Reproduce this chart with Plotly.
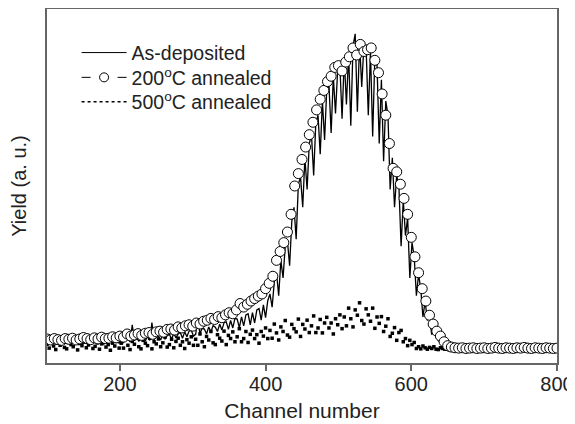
import plotly.graph_objects as go

# channel numbers for each series
ch_dep = list(range(100, 800, 3))
ch_200 = list(range(100, 801, 5))
ch_500 = list(range(100, 800, 3))

# As-deposited (noisy line), yield in arbitrary units
y_dep = [
    6.3, 5.5, 6.0, 6.9, 5.4, 6.2, 5.1, 6.6, 6.8, 5.6, 6.1, 5.3, 7.0, 5.8, 6.4, 6.6, 5.2,
    6.0, 6.9, 5.5, 6.3, 5.7, 7.2, 5.4, 6.5, 6.1, 5.3, 6.8, 5.9, 7.0, 5.5, 6.4, 6.7, 5.6,
    6.6, 5.8, 7.1, 6.9, 6.0, 10.8, 6.3, 7.4, 6.1, 7.0, 7.3, 6.2, 7.6, 6.4, 11.4, 6.6, 7.8,
    7.5, 6.5, 8.0, 6.8, 7.7, 8.1, 6.7, 8.4, 7.1, 8.2, 8.6, 7.0, 8.8, 7.4, 9.0, 9.3, 7.6,
    8.1, 12.2, 8.3, 9.8, 9.6, 8.2, 10.2, 8.8, 10.6, 10.1, 8.9, 11.0, 9.3, 11.4, 11.6, 9.5,
    12.0, 9.9, 12.6, 12.4, 10.0, 13.0, 10.5, 13.6, 13.9, 10.8, 14.2, 11.3, 15.0, 15.4,
    12.1, 16.4, 12.8, 17.6,
    19.5, 15.8, 23.0, 25.5, 19.0, 29.0, 24.0, 33.0, 34.5, 27.5, 40.0, 44.0, 35.0, 50.5,
    52.5, 44.0, 58.0, 49.0, 62.0, 64.5, 53.0, 68.0, 70.0, 59.0, 74.0, 63.0, 77.5, 78.5,
    65.0, 81.0, 70.5, 83.0, 84.0, 69.0,
    86.0, 73.0, 87.5, 67.0, 89.5, 93.0, 71.0, 90.5, 78.0, 90.0, 89.0, 70.0, 88.0, 64.0,
    86.5, 84.0, 62.0, 80.0, 57.0, 74.0, 70.0, 49.0, 58.0, 44.0, 53.0, 50.0, 33.0, 46.0,
    36.0, 41.0, 24.0, 34.0, 30.0, 19.0,
    25.0, 21.0, 13.0, 17.5, 12.0, 13.0, 8.0, 9.5, 7.5, 6.4, 5.8, 5.0, 4.9, 4.4, 4.6, 4.1,
    4.4, 4.3, 3.9, 4.2, 4.4, 4.0, 4.3, 3.9, 4.4, 4.2, 3.9, 4.3, 4.4, 4.0, 4.2, 3.9, 4.4, 4.1,
    4.0, 4.3, 4.4, 3.9, 4.2, 4.0, 4.4, 4.1, 3.9, 4.3, 4.2, 4.4, 3.9, 4.1, 4.3, 4.0, 4.4,
    4.2, 3.9, 4.3, 4.1, 4.4, 4.0, 3.9, 4.3, 4.2, 4.4, 4.0, 4.1, 4.3,
]

# 200 C annealed (open circles)
y_200 = [
    6.8, 6.5, 6.9, 6.6, 6.4, 6.9, 6.7, 7.0, 6.5, 6.8, 7.2, 6.9, 6.6, 7.1, 6.8, 7.3, 6.9, 7.0, 7.4, 7.1,
    7.6, 7.3, 8.2, 7.6, 7.9, 8.3, 7.8, 8.4, 8.6, 8.1, 8.8, 9.0, 8.7, 9.5, 9.6, 9.3, 10.2, 9.9, 10.5, 10.8,
    10.4, 11.3, 11.0, 11.8, 12.1, 12.6, 12.3, 13.1, 12.8, 13.6, 14.2, 13.9, 15.0, 16.8, 15.8, 16.6, 17.5, 18.2, 18.9, 19.5,
    21.0, 22.5, 24.5, 29.0, 31.5, 34.0, 37.0, 42.0, 50.0, 53.5, 57.5, 61.0, 64.5, 68.0, 71.5, 74.5, 77.0, 79.5, 81.0, 83.5,
    84.0, 82.5, 85.0, 86.5, 89.0, 87.0, 90.0, 88.0, 88.5, 89.0, 85.5, 82.0, 76.0, 70.0, 62.0, 55.0, 54.0, 50.5, 46.5, 42.0,
    35.5, 30.0, 25.5, 21.0, 17.5, 13.5, 11.0, 9.0, 7.6, 6.0, 4.9, 4.5, 4.3, 4.2, 4.3, 4.1, 4.2, 4.3, 4.1, 4.2,
    4.3, 4.1, 4.2, 4.4, 4.2, 4.1, 4.3, 4.2, 4.1, 4.3, 4.2, 4.4, 4.2, 4.1, 4.3, 4.2, 4.1, 4.3, 4.2, 4.1, 4.2,
]

# 500 C annealed (dots)
y_500 = [
    5.3, 4.2, 6.1, 4.8, 3.8, 5.6, 5.0, 6.4, 4.4, 4.0, 5.8, 5.2, 4.6, 6.2, 3.7, 5.5, 4.9,
    5.9, 4.3, 5.1, 6.3, 4.1, 4.7, 5.7, 3.9, 5.4, 6.0, 4.5, 5.2, 3.6, 5.6, 4.8, 6.1, 4.2,
    5.6, 4.2, 6.7, 5.0, 3.8, 6.1, 5.3, 7.1, 4.6, 4.0, 6.4, 5.6, 4.9, 7.0, 4.0, 6.0, 5.4,
    6.8, 4.6, 5.7, 7.3, 4.5, 5.2, 6.7, 4.3, 6.1, 7.0, 5.0, 6.0, 4.1, 6.6, 5.6, 7.4, 5.0,
    6.7, 5.0, 8.2, 6.0, 4.6, 7.5, 6.5, 8.9, 5.7, 5.2, 8.0, 7.0, 6.2, 9.0, 5.2, 7.8, 6.9,
    8.8, 6.0, 7.4, 9.7, 6.0, 6.9, 8.9, 5.8, 8.1, 9.3, 6.9, 8.0, 5.6, 8.9, 7.6, 9.9, 6.9,
    9.2, 7.0, 11.0, 8.5, 6.5, 10.2, 8.9, 12.0, 7.9, 7.3, 10.9, 9.7, 8.8, 12.4, 7.5, 10.9,
    9.6, 12.1, 8.6, 10.5, 13.3, 8.6, 9.9, 12.3, 8.5, 11.3, 12.9, 9.9, 11.3, 8.2, 12.5,
    10.8, 13.6, 9.7,
    13.0, 10.5, 15.5, 12.5, 10.2, 15.0, 13.5, 17.0, 12.0, 11.0, 15.3, 13.6, 11.8, 15.5,
    9.8, 13.0, 11.2, 13.1, 8.9, 10.4, 12.5, 7.5, 8.4, 10.0, 6.4, 8.6, 9.2, 6.0, 6.9, 4.9,
    6.4, 5.2, 5.8, 4.1,
    4.6, 4.0, 4.8, 4.3, 3.9, 4.4, 4.1, 4.6, 3.9, 3.8, 4.3, 4.1, 3.9, 4.4, 3.7, 4.2, 4.0,
    4.3, 3.8, 4.0, 4.4, 3.8, 3.9, 4.2, 3.7, 4.1, 4.3, 3.9, 4.0, 3.7, 4.2, 4.0, 4.3, 3.8,
    4.1, 3.8, 4.3, 4.0, 3.7, 4.2, 4.0, 4.4, 3.9, 3.8, 4.2, 4.1, 3.9, 4.3, 3.7, 4.1, 4.0,
    4.3, 3.8, 4.0, 4.4, 3.8, 3.9, 4.2, 3.7, 4.1, 4.3, 3.9, 4.0, 3.7,
]

names = ["As-deposited", "200<sup>o</sup>C annealed", "500<sup>o</sup>C annealed"]

fig = go.Figure()

fig.add_trace(go.Scatter(x=ch_dep, y=y_dep, mode="lines",
                         line=dict(color="black", width=1.3), showlegend=False))
fig.add_trace(go.Scatter(x=ch_500, y=y_500, mode="markers",
                         marker=dict(symbol="square", size=3.5, color="black"),
                         showlegend=False))
fig.add_trace(go.Scatter(x=ch_200, y=y_200, mode="markers",
                         marker=dict(symbol="circle", size=10, color="white",
                                     line=dict(color="black", width=1)),
                         showlegend=False))

# legend entries, one small legend per row
fig.add_trace(go.Scatter(x=[None], y=[None], mode="lines", name=names[0],
                         line=dict(color="black", width=1), legend="legend"))
fig.add_trace(go.Scatter(x=[None], y=[None], mode="lines+markers", name=names[1],
                         line=dict(color="black", width=1, dash="dash"),
                         marker=dict(symbol="circle", size=9, color="white",
                                     line=dict(color="black", width=1)),
                         legend="legend2"))
fig.add_trace(go.Scatter(x=[None], y=[None], mode="lines", name=names[2],
                         line=dict(color="black", width=1.5, dash="dot"),
                         legend="legend3"))

base_font = dict(family="Liberation Sans, Arial, sans-serif", size=20, color="#222")
leg = dict(x=0.058, xanchor="left", yanchor="middle", bgcolor="rgba(0,0,0,0)",
           font=dict(size=19.5, color="#222"), itemwidth=45)

# the page body adds an 8px offset, so the figure is made 8px smaller
fig.update_layout(
    width=567, height=416,
    margin=dict(l=39, r=18, t=1, b=61),
    paper_bgcolor="white", plot_bgcolor="white",
    font=base_font,
    legend=dict(leg, y=0.876),
    legend2=dict(leg, y=0.806),
    legend3=dict(leg, y=0.737),
)
fig.update_xaxes(range=[100, 800], tickvals=[200, 400, 600, 800],
                 ticks="outside", ticklen=6, tickcolor="#666", tickwidth=1.5,
                 tickfont=dict(size=20), ticklabelstandoff=-4,
                 showline=True, linecolor="#666", linewidth=1.5, mirror=True,
                 showgrid=False, zeroline=False, automargin=False,
                 title=dict(text="Channel number", standoff=10, font=dict(size=21)))
fig.update_yaxes(range=[0, 100], showticklabels=False, ticks="",
                 showline=True, linecolor="#666", linewidth=1.5, mirror=True,
                 showgrid=False, zeroline=False, automargin=False,
                 title=dict(text="Yield (a. u.)", standoff=14, font=dict(size=20)))

fig.write_html("out.html")
